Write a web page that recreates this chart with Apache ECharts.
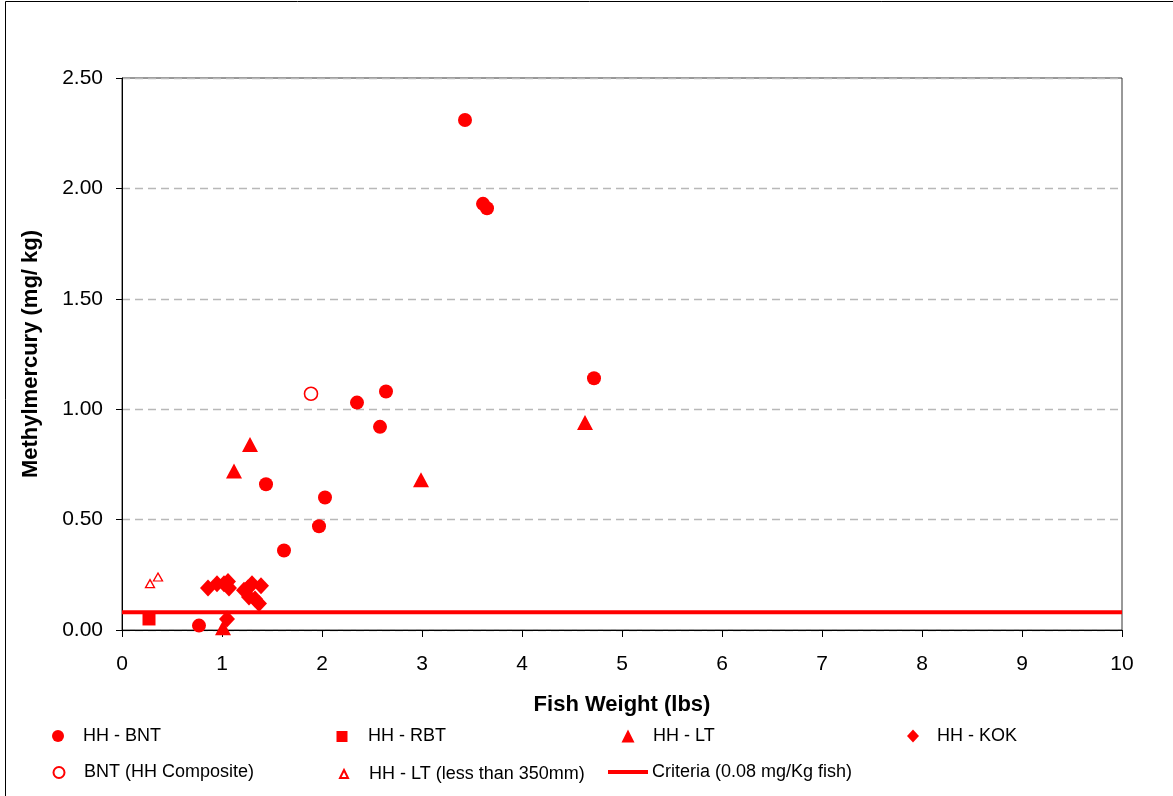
<!DOCTYPE html>
<html>
<head>
<meta charset="utf-8">
<script src="https://cdn.jsdelivr.net/npm/echarts@6/dist/echarts.min.js"></script>
<style>
html,body{margin:0;padding:0;background:#fff;}
#chart{width:1173px;height:796px;}
</style>
</head>
<body>
<div id="chart"></div>
<script>
// ---- data (x = fish weight lbs, y = methylmercury mg/kg) ----
const seriesNames = ["HH - BNT","HH - RBT","HH - LT","HH - KOK","BNT (HH Composite)","HH - LT (less than 350mm)","Criteria (0.08 mg/Kg fish)"];
const hhBNT = [[3.43,2.31],[3.61,1.93],[3.65,1.91],[4.72,1.14],[2.35,1.03],[2.64,1.08],[2.58,0.92],[1.44,0.66],[2.03,0.60],[1.97,0.47],[1.62,0.36],[0.77,0.02]];
const hhRBT = [[0.27,0.05]];
const hhLT = [[1.28,0.84],[1.12,0.72],[2.99,0.68],[4.63,0.94],[1.01,0.01]];
const hhKOK = [[0.86,0.19],[0.95,0.21],[1.02,0.21],[1.06,0.22],[1.07,0.19],[1.22,0.18],[1.26,0.19],[1.30,0.21],[1.39,0.20],[1.27,0.15],[1.33,0.14],[1.37,0.12],[1.05,0.05]];
const bntComposite = [[1.89,1.07]];
const hhLTsmall = [[0.28,0.21],[0.36,0.24]];
const criteriaValue = 0.08;
const criteria = [[0,criteriaValue],[10,criteriaValue]];
const xTicks = [0,1,2,3,4,5,6,7,8,9,10];
const yTicks = [0,0.5,1.0,1.5,2.0,2.5];

const RED = '#ff0000';
const FONT = 'Liberation Sans, Arial, sans-serif';
const chart = echarts.init(document.getElementById('chart'));

function legendItem(name, left, top, w, h, pad, icon){
  const l = {
    data:[name], left:left, top:top, itemWidth:w, itemHeight:h, orient:'horizontal',
    padding:0, selectedMode:false,
    textStyle:{fontFamily:FONT, fontSize:18, color:'#000', padding:[0,0,0,pad]}
  };
  if(icon) l.icon = icon;
  return l;
}

chart.setOption({
  animation:false,
  backgroundColor:'#fff',
  graphic:[{type:'rect', shape:{x:5.5,y:1.5,width:1300,height:900}, style:{fill:'none',stroke:'#000',lineWidth:1}, silent:true, z:-1}],
  grid:{left:122, right:51, top:78, bottom:166, containLabel:false,
        show:true, borderColor:'#333', borderWidth:1, backgroundColor:'transparent'},
  legend:[
    legendItem(seriesNames[0], 52, 727, 12, 12, 14),
    legendItem(seriesNames[1], 336.5, 727.5, 11, 11, 15.5),
    legendItem(seriesNames[2], 621.5, 727, 13, 13, 13.5),
    legendItem(seriesNames[3], 907, 727, 12, 13, 13),
    legendItem(seriesNames[4], 52.5, 763.5, 11, 11, 14.5),
    legendItem(seriesNames[5], 339, 765, 8, 8, 16),
    legendItem(seriesNames[6], 608, 763, 40, 4, -1, 'rect')
  ],
  xAxis:{
    type:'value', min:0, max:10, interval:1,
    name:'Fish Weight (lbs)', nameLocation:'middle', nameGap:64,
    nameTextStyle:{fontFamily:FONT, fontSize:22, fontWeight:'bold', color:'#000'},
    axisLine:{show:true, onZero:false, lineStyle:{color:'#000', width:1}},
    axisTick:{show:true, length:7, lineStyle:{color:'#000'}},
    axisLabel:{margin:24, fontFamily:FONT, fontSize:21, color:'#000',
      formatter:v=> xTicks.includes(v) ? String(v) : ''},
    splitLine:{show:false}
  },
  yAxis:{
    type:'value', min:0, max:2.5, interval:0.5,
    name:'Methylmercury (mg/ kg)', nameLocation:'middle', nameGap:80,
    nameTextStyle:{fontFamily:FONT, fontSize:22, fontWeight:'bold', color:'#000'},
    axisLine:{show:true, lineStyle:{color:'#000', width:1}},
    axisTick:{show:true, length:6, lineStyle:{color:'#000'}},
    axisLabel:{margin:19, fontFamily:FONT, fontSize:21, color:'#000',
      formatter:v=> yTicks.some(t=>Math.abs(t-v)<1e-9) ? v.toFixed(2) : ''},
    splitLine:{show:true, lineStyle:{color:'#b8b8b8', type:[8,5], width:1.3}}
  },
  series:[
    {name:seriesNames[0], type:'scatter', data:hhBNT, symbol:'circle', symbolSize:14, itemStyle:{color:RED, opacity:1}, clip:false, z:3},
    {name:seriesNames[1], type:'scatter', data:hhRBT, symbol:'rect', symbolSize:13, itemStyle:{color:RED, opacity:1}, clip:false, z:3},
    {name:seriesNames[2], type:'scatter', data:hhLT, symbol:'triangle', symbolSize:[16,15], itemStyle:{color:RED, opacity:1}, clip:false, z:3},
    {name:seriesNames[3], type:'scatter', data:hhKOK, symbol:'diamond', symbolSize:[16,17], itemStyle:{color:RED, opacity:1}, clip:false, z:3},
    {name:seriesNames[4], type:'scatter', data:bntComposite, symbol:'circle', symbolSize:13, itemStyle:{color:'#fff', borderColor:RED, borderWidth:1.6, opacity:1}, clip:false, z:3},
    {name:seriesNames[5], type:'scatter', data:hhLTsmall, symbol:'triangle', symbolSize:[9,8], itemStyle:{color:'#fff', borderColor:RED, borderWidth:1.3, opacity:1}, clip:false, z:3},
    {name:seriesNames[6], type:'line', data:criteria, symbol:'none', showSymbol:false, lineStyle:{color:RED, width:4}, itemStyle:{color:RED}, z:2}
  ]
});
</script>
</body>
</html>
